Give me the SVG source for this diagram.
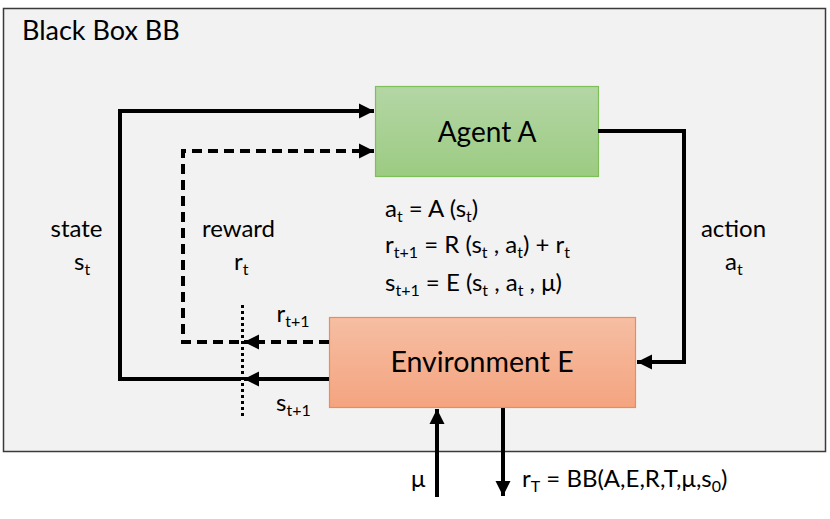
<svg xmlns="http://www.w3.org/2000/svg" width="830" height="519" viewBox="0 0 830 519">
<defs>
<linearGradient id="gA" x1="0" y1="0" x2="0" y2="1"><stop offset="0" stop-color="#b4d6a5"/><stop offset="1" stop-color="#9ccb82"/></linearGradient>
<linearGradient id="gE" x1="0" y1="0" x2="0" y2="1"><stop offset="0" stop-color="#f6bea3"/><stop offset="1" stop-color="#f4a47f"/></linearGradient>
<marker id="ah" markerUnits="userSpaceOnUse" markerWidth="16" markerHeight="16" viewBox="0 0 16 16" refX="15" refY="8" orient="auto"><path d="M0,0.5 L15,8 L0,15.5 Z" fill="#000"/></marker>
</defs>
<style>
text{font-family:Lato,"Open Sans","Liberation Sans",sans-serif;fill:#000}
.t{font-size:24px}
.s{font-size:16px}
.ln{fill:none;stroke:#000;stroke-width:4}
.dash{stroke-dasharray:10 6}
.dot{fill:none;stroke:#000;stroke-width:3;stroke-dasharray:3 3}
</style>
<g id="blackbox">
<rect x="3.5" y="8.5" width="822" height="443" fill="#f2f2f2" stroke="#3a3a3a" stroke-width="1.5"/>
<text x="22" y="40" font-size="27">Black Box BB</text>
</g>
<g id="agent">
<rect x="375.5" y="86.5" width="223" height="90" fill="url(#gA)" stroke="#7fbf5a" stroke-width="1.2"/>
<text x="487" y="142" font-size="28" text-anchor="middle">Agent A</text>
</g>
<g id="environment">
<rect x="329.5" y="317.5" width="306" height="90" fill="url(#gE)" stroke="#ee8a55" stroke-width="1.2"/>
<text x="482" y="372" font-size="28.5" text-anchor="middle">Environment E</text>
</g>
<g id="connectors">
<path class="ln" d="M598,131 H684 V362 H637" marker-end="url(#ah)"/>
<path class="ln" d="M329,379 H244" marker-end="url(#ah)"/>
<path class="ln" d="M241,379 H120 V111 H374" marker-end="url(#ah)"/>
<path class="ln dash" d="M329,342 H244" marker-end="url(#ah)"/>
<path class="ln dash" d="M239,342 H183 V151 H374" marker-end="url(#ah)"/>
<path class="dot" d="M242.5,305 V419"/>
<path class="ln" d="M437,497 V409" marker-end="url(#ah)"/>
<path class="ln" d="M503,408 V496" marker-end="url(#ah)"/>
</g>
<g id="labels">
<text class="t" x="76.5" y="237" text-anchor="middle">state</text>
<text class="t" x="74" y="270">s<tspan class="s" dy="5">t</tspan></text>
<text class="t" x="238.5" y="237" text-anchor="middle">reward</text>
<text class="t" x="234" y="270">r<tspan class="s" dy="5">t</tspan></text>
<text class="t" x="733.5" y="237" text-anchor="middle">action</text>
<text class="t" x="725" y="270">a<tspan class="s" dy="5">t</tspan></text>
<text class="t" x="276.5" y="322">r<tspan class="s" dy="5">t+1</tspan></text>
<text class="t" x="276" y="411">s<tspan class="s" dy="5">t+1</tspan></text>
<text class="t" x="385" y="217">a<tspan class="s" dy="5">t</tspan><tspan dy="-5"> = A (s</tspan><tspan class="s" dy="5">t</tspan><tspan dy="-5">)</tspan></text>
<text class="t" x="385" y="253">r<tspan class="s" dy="5">t+1</tspan><tspan dy="-5"> = R (s</tspan><tspan class="s" dy="5">t</tspan><tspan dy="-5"> , a</tspan><tspan class="s" dy="5">t</tspan><tspan dy="-5">) + r</tspan><tspan class="s" dy="5">t</tspan></text>
<text class="t" x="385" y="290.5">s<tspan class="s" dy="5">t+1</tspan><tspan dy="-5"> = E (s</tspan><tspan class="s" dy="5">t</tspan><tspan dy="-5"> , a</tspan><tspan class="s" dy="5">t</tspan><tspan dy="-5"> , μ)</tspan></text>
<text class="t" x="411" y="487">μ</text>
<text class="t" x="522" y="487">r<tspan class="s" dy="5">T</tspan><tspan dy="-5"> = BB(A,E,R,T,μ,s</tspan><tspan class="s" dy="5">0</tspan><tspan dy="-5">)</tspan></text>
</g>
</svg>
